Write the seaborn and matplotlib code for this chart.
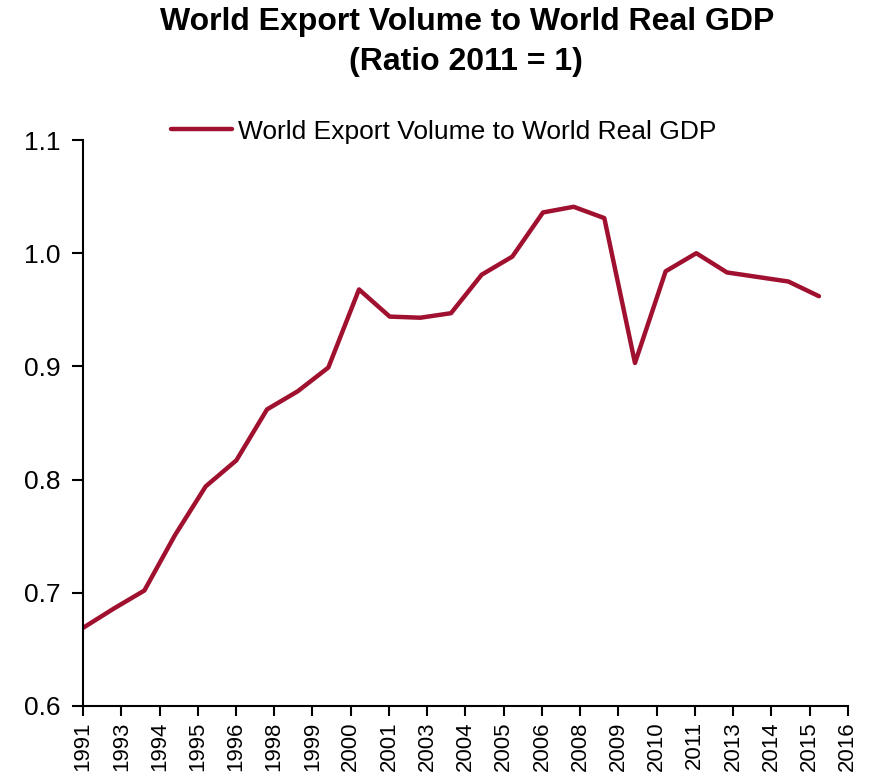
import numpy as np
import pandas as pd
import matplotlib
matplotlib.use("Agg")
import matplotlib.pyplot as plt
import seaborn as sns

years = list(range(1991, 2016))
ratio = [0.669, 0.686, 0.702, 0.751, 0.794, 0.817, 0.862, 0.878, 0.899, 0.968,
         0.944, 0.943, 0.947, 0.981, 0.997, 1.036, 1.041, 1.031, 0.903, 0.984,
         1.000, 0.983, 0.979, 0.975, 0.962]
tick_labels = ["1991", "1993", "1994", "1995", "1996", "1998", "1999", "2000",
               "2001", "2003", "2004", "2005", "2006", "2008", "2009", "2010",
               "2011", "2013", "2014", "2015", "2016"]
series_name = "World Export Volume to World Real GDP"

df = pd.DataFrame({"year": years, "ratio": ratio})

sns.set_theme(style="white")
plt.rcParams["font.family"] = ["Liberation Sans", "DejaVu Sans"]
plt.rcParams["text.color"] = "black"
plt.rcParams["xtick.color"] = "black"
plt.rcParams["ytick.color"] = "black"

fig = plt.figure(figsize=(8.75, 7.8), dpi=100)
ax = fig.add_axes([0.0949, 0.0949, 0.874, 0.7256])

sns.lineplot(data=df, x="year", y="ratio", ax=ax, color="#A0102F",
             linewidth=3.2, label=series_name, solid_capstyle="round")

xmax = 1991 + 24.94
ax.set_xlim(1991, xmax)
ax.set_ylim(0.6, 1.1)
ax.set_xticks(np.linspace(1991, xmax, len(tick_labels)))
ax.set_xticklabels(tick_labels, rotation=90, fontsize=16, color="black")
ax.set_yticks([0.6, 0.7, 0.8, 0.9, 1.0, 1.1])
ax.set_yticklabels(["0.6", "0.7", "0.8", "0.9", "1.0", "1.1"], fontsize=19,
                   color="black")
ax.set_xlabel("")
ax.set_ylabel("")
for s in ["top", "right"]:
    ax.spines[s].set_visible(False)
for s in ["left", "bottom"]:
    ax.spines[s].set_color("black")
    ax.spines[s].set_linewidth(1.5)
ax.tick_params(axis="both", direction="out", width=1.5, color="black",
               left=True, bottom=True)
ax.tick_params(axis="x", length=7, pad=4)
ax.tick_params(axis="y", length=8, pad=8)

leg = ax.legend(loc="center", bbox_to_anchor=(0.472, 1.015), frameon=False,
                fontsize=19, handlelength=2.3, handletextpad=0.25,
                borderaxespad=0)
for t in leg.get_texts():
    t.set_color("black")

fig.text(0.534, 0.972, "World Export Volume to World Real GDP",
         ha="center", va="center", fontsize=23, fontweight="bold",
         color="black")
fig.text(0.533, 0.921, "(Ratio 2011 = 1)",
         ha="center", va="center", fontsize=23, fontweight="bold",
         color="black")

fig.savefig("out.png", dpi=100)
